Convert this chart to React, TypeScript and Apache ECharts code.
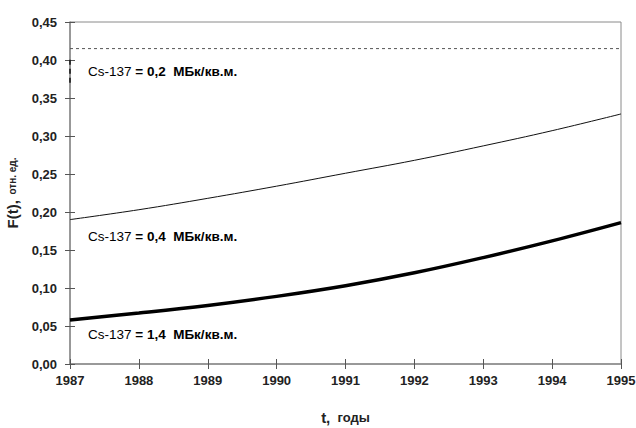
import React, { useEffect, useRef } from "react";
import * as echarts from "echarts";

const years = [1987, 1988, 1989, 1990, 1991, 1992, 1993, 1994, 1995];
const f04 = [0.19, 0.203, 0.218, 0.234, 0.251, 0.268, 0.287, 0.307, 0.329];
const f14 = [0.058, 0.067, 0.077, 0.089, 0.103, 0.12, 0.14, 0.162, 0.186];
const f02Level = 0.415;
const f02Start = [0.37, 0.403];
const labels = [
  { text: "0,2", y: 72 },
  { text: "0,4", y: 237 },
  { text: "1,4", y: 335 },
];

export default function App() {
  const ref = useRef<HTMLDivElement>(null);
  useEffect(() => {
    const chart = echarts.init(ref.current!, null, { renderer: "svg" });
    const font = "'Liberation Sans', Arial, sans-serif";
    const axisColor = "#8a8a8a";
    chart.setOption({
      animation: false,
      backgroundColor: "#ffffff",
      textStyle: { fontFamily: font },
      grid: {
        left: 70,
        right: 15,
        top: 22,
        bottom: 64,
        outerBoundsMode: "none",
        show: true,
        borderColor: axisColor,
        borderWidth: 1,
      },
      xAxis: [
        {
          type: "value",
          min: 1987,
          max: 1995,
          interval: 1,
          position: "bottom",
          axisLine: { show: true, lineStyle: { color: axisColor, width: 1.5 } },
          axisTick: { show: true, length: 5, lineStyle: { color: "#555" } },
          splitLine: { show: false },
          axisLabel: {
            margin: 10,
            fontSize: 13,
            fontWeight: "bold",
            color: "#222",
            fontFamily: font,
            formatter: (v: number) => String(v),
          },
          name: "{a|t,}{b|  годы}",
          nameLocation: "middle",
          nameGap: 46,
          nameTextStyle: {
            rich: {
              a: { fontSize: 15, fontWeight: "bold", color: "#222", fontFamily: font },
              b: { fontSize: 13, fontWeight: "bold", color: "#222", fontFamily: font },
            },
          },
        },
        {
          type: "value",
          min: 1987,
          max: 1995,
          interval: 1,
          position: "bottom",
          offset: 0,
          axisLine: { show: false },
          axisTick: { show: true, inside: true, length: 5, lineStyle: { color: "#555" } },
          axisLabel: { show: false },
          splitLine: { show: false },
        },
      ],
      yAxis: [
        {
          type: "value",
          min: 0,
          max: 0.45,
          interval: 0.05,
          axisLine: { show: true, lineStyle: { color: axisColor, width: 1.5 } },
          axisTick: { show: true, length: 5, lineStyle: { color: "#555" } },
          splitLine: { show: false },
          axisLabel: {
            margin: 13,
            fontSize: 13,
            fontWeight: "bold",
            color: "#222",
            fontFamily: font,
            formatter: (v: number) => v.toFixed(2).replace(".", ","),
          },
          name: "{a|F(t),}{b|  отн. ед.}",
          nameLocation: "middle",
          nameRotate: 90,
          nameGap: 50,
          nameTextStyle: {
            rich: {
              a: { fontSize: 15, fontWeight: "bold", color: "#222", fontFamily: font },
              b: { fontSize: 10, fontWeight: "bold", color: "#222", fontFamily: font },
            },
          },
        },
        {
          type: "value",
          min: 0,
          max: 0.45,
          interval: 0.05,
          position: "left",
          offset: 0,
          axisLine: { show: false },
          axisTick: { show: true, inside: true, length: 5, lineStyle: { color: "#555" } },
          axisLabel: { show: false },
          splitLine: { show: false },
        },
      ],
      series: [
        {
          type: "line",
          name: "0.2 level",
          data: [
            [years[0], f02Level],
            [years[years.length - 1], f02Level],
          ],
          showSymbol: false,
          lineStyle: { color: "#555", width: 1, type: [3, 3] },
        },
        {
          type: "line",
          name: "0.2 start",
          data: f02Start.map((v) => [years[0], v]),
          showSymbol: false,
          lineStyle: { color: "#111", width: 1.5, type: [5, 4] },
        },
        {
          type: "line",
          name: "0.4",
          data: years.map((y, i) => [y, f04[i]]),
          smooth: 0.4,
          showSymbol: false,
          lineStyle: { color: "#111", width: 1 },
        },
        {
          type: "line",
          name: "1.4",
          data: years.map((y, i) => [y, f14[i]]),
          smooth: 0.4,
          showSymbol: false,
          lineStyle: { color: "#000", width: 3.5 },
        },
      ],
      graphic: labels.map((l) => ({
        type: "text",
        left: 88,
        top: l.y - 8,
        style: {
          text: "{a|Cs-137}{b| = " + l.text + "  МБк/кв.м.}",
          rich: {
            a: { fontSize: 13.5, color: "#222", fontFamily: font },
            b: { fontSize: 13.5, fontWeight: "bold", color: "#222", fontFamily: font },
          },
        },
      })),
    });
    return () => chart.dispose();
  }, []);
  return (
    <div
      ref={ref}
      style={{ position: "absolute", left: 0, top: 0, width: 636, height: 428 }}
    />
  );
}
